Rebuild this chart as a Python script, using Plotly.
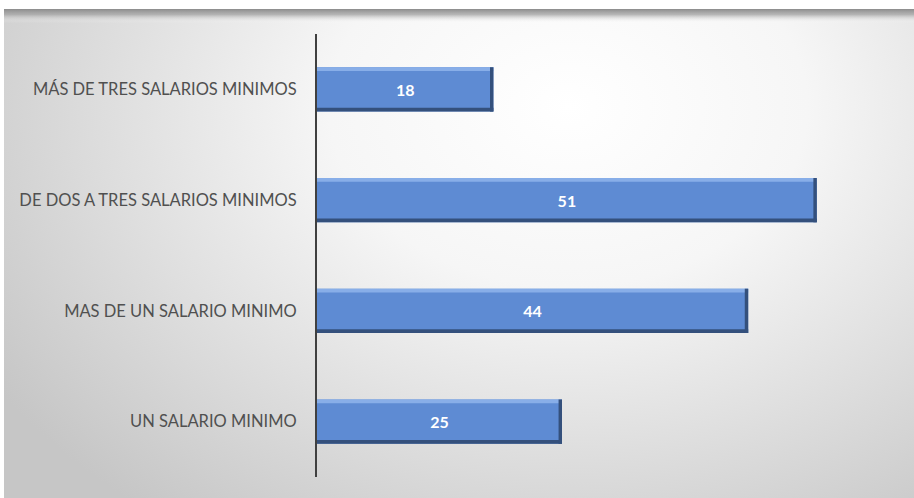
import base64
import plotly.graph_objects as go

# Data
categories = [
    "UN SALARIO MINIMO",
    "MAS DE UN SALARIO MINIMO",
    "DE DOS A TRES SALARIOS MINIMOS",
    "MÁS DE TRES SALARIOS MINIMOS",
]
counts = [25, 44, 51, 18]

W, H = 914, 498
M_L, M_R, M_T, M_B = 317, 9, 34, 21
PW, PH = W - M_L - M_R, H - M_T - M_B

FACE = "#5e8bd3"
LIGHT = "#88aee8"
DARK = "#34507c"
BAR_W = 0.4
BEVEL = 0.034

# Soft radial backdrop with a shadow along the top edge of the frame
svg = f"""<svg xmlns='http://www.w3.org/2000/svg' width='910' height='489' viewBox='0 0 910 489' preserveAspectRatio='none'>
<defs>
<radialGradient id='g' cx='0.62' cy='0.2' r='0.75' gradientTransform='translate(0.62 0.2) scale(1 1.4) translate(-0.62 -0.2)'>
<stop offset='0' stop-color='#ffffff'/>
<stop offset='0.35' stop-color='#f6f6f6'/>
<stop offset='1' stop-color='#c6c6c6'/>
</radialGradient>
<linearGradient id='s' x1='0' y1='0' x2='0' y2='1'>
<stop offset='0' stop-color='#8c8c8c' stop-opacity='1'/>
<stop offset='0.4' stop-color='#a6a6a6' stop-opacity='0.8'/>
<stop offset='1' stop-color='#ffffff' stop-opacity='0'/>
</linearGradient>
</defs>
<rect x='0' y='0' width='910' height='489' fill='url(#g)'/>
<rect x='0' y='0' width='910' height='14' fill='url(#s)'/>
</svg>"""
bg_src = "data:image/svg+xml;base64," + base64.b64encode(svg.encode()).decode()

fig = go.Figure()

# Bar face carrying the value labels
fig.add_trace(go.Bar(
    y=categories, x=counts, orientation="h",
    width=BAR_W, marker=dict(color=FACE, line=dict(width=0)),
    text=counts, textposition="inside", insidetextanchor="middle",
    textfont=dict(family="Lato, Open Sans, sans-serif", size=16, color="white", weight="bold"),
    hoverinfo="skip", showlegend=False,
))
# Light bevel along the top edge
fig.add_trace(go.Bar(
    y=categories, x=counts, orientation="h",
    width=BEVEL, offset=BAR_W / 2 - BEVEL,
    marker=dict(color=LIGHT, line=dict(width=0)),
    hoverinfo="skip", showlegend=False,
))
# Dark bevel along the bottom edge
fig.add_trace(go.Bar(
    y=categories, x=counts, orientation="h",
    width=BEVEL, offset=-BAR_W / 2,
    marker=dict(color=DARK, line=dict(width=0)),
    hoverinfo="skip", showlegend=False,
))
# Dark bevel at the right end
end_w = 0.35
fig.add_trace(go.Bar(
    y=categories, x=[end_w] * len(counts), base=[c - end_w for c in counts],
    orientation="h", width=BAR_W,
    marker=dict(color=DARK, line=dict(width=0)),
    hoverinfo="skip", showlegend=False,
))

fig.update_layout(
    width=W, height=H,
    margin=dict(l=M_L, r=M_R, t=M_T, b=M_B, pad=0),
    barmode="overlay",
    paper_bgcolor="white",
    plot_bgcolor="rgba(0,0,0,0)",
    font=dict(family="Lato, Open Sans, sans-serif", size=16.5, color="#505050"),
    images=[dict(
        source=bg_src, xref="paper", yref="paper",
        x=(4 - M_L) / PW, y=1 + (M_T - 9) / PH,
        sizex=(W - 4) / PW, sizey=(H - 9) / PH,
        xanchor="left", yanchor="top", sizing="stretch", layer="below",
    )],
    xaxis=dict(range=[0, 60], visible=False, fixedrange=True),
    yaxis=dict(
        categoryorder="array", categoryarray=categories,
        showline=True, linecolor="#404040", linewidth=2,
        showgrid=False, zeroline=False, ticks="",
        ticklabelstandoff=15,
        tickfont=dict(family="Lato, Open Sans, sans-serif", size=16.5, color="#505050"),
        fixedrange=True,
    ),
)

fig.write_html("out.html")
